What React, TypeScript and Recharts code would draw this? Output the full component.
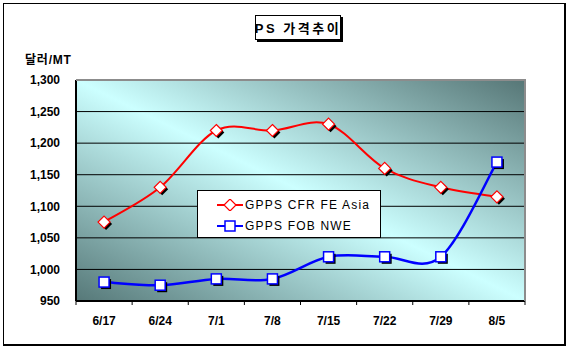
import React from 'react';
import { LineChart, Line, XAxis, YAxis, CartesianGrid } from 'recharts';

const weeks = ['6/17', '6/24', '7/1', '7/8', '7/15', '7/22', '7/29', '8/5'];
const cfrAsia = [1075, 1130, 1220, 1220, 1230, 1160, 1130, 1115];
const fobNwe = [980, 975, 985, 985, 1020, 1020, 1020, 1170];
const yTicks = [950, 1000, 1050, 1100, 1150, 1200, 1250, 1300];
const seriesNames = ['GPPS CFR FE Asia', 'GPPS FOB NWE'];
const seriesColors = ['#ff0000', '#0000ff'];

const data = weeks.map((w, i) => ({ week: w, asia: cfrAsia[i], nwe: fobNwe[i] }));

const FONT = "'Liberation Sans', Arial, 'Noto Sans CJK KR', sans-serif";
const BAND = 449 / weeks.length;

// Excel-style smoothing (Catmull-Rom as cubic bezier)
const excelCurve = (context: any) => {
    let pts: number[][] = [];
    return {
        areaStart() {},
        areaEnd() {},
        lineStart() { pts = []; },
        lineEnd() {
            if (!pts.length) return;
            context.moveTo(pts[0][0], pts[0][1]);
            for (let i = 0; i < pts.length - 1; i++) {
                const p0 = pts[i - 1] || pts[i];
                const p1 = pts[i];
                const p2 = pts[i + 1];
                const p3 = pts[i + 2] || p2;
                context.bezierCurveTo(
                    p1[0] + (p2[0] - p0[0]) / 6, p1[1] + (p2[1] - p0[1]) / 6,
                    p2[0] - (p3[0] - p1[0]) / 6, p2[1] - (p3[1] - p1[1]) / 6,
                    p2[0], p2[1]
                );
            }
        },
        point(x: number, y: number) { pts.push([+x, +y]); },
    };
};

const Diamond = ({ cx, cy, shadow = true }: any) => {
    const d = (x: number, y: number) => `${x},${y - 6} ${x + 6},${y} ${x},${y + 6} ${x - 6},${y}`;
    return (
        <g>
            {shadow && <polygon points={d(cx + 2, cy + 2)} fill="#000" />}
            <polygon points={d(cx, cy)} fill="#fff" stroke="#ff0000" strokeWidth={1.2} />
        </g>
    );
};

const Square = ({ cx, cy, shadow = true }: any) => (
    <g>
        {shadow && <rect x={cx - 5 + 2} y={cy - 5 + 2} width={10} height={10} fill="#000" />}
        <rect x={cx - 5} y={cy - 5} width={10} height={10} fill="#fff" stroke="#0000ff" strokeWidth={1.5} />
    </g>
);

const XTick = ({ x, y, payload, index }: any) => (
    <g>
        <line x1={x - BAND / 2} y1={y} x2={x - BAND / 2} y2={y + 4} stroke="#000" />
        {index === weeks.length - 1 && <line x1={x + BAND / 2} y1={y} x2={x + BAND / 2} y2={y + 4} stroke="#000" />}
        <text x={x} y={y + 24} textAnchor="middle" fontSize={12} fontWeight="bold" fontFamily={FONT} fill="#000">
            {payload.value}
        </text>
    </g>
);

const LegendBox = () => (
    <div style={{ position: 'absolute', left: 197, top: 190, width: 184, height: 48, background: '#fff', border: '1px solid #000', boxSizing: 'border-box', fontFamily: FONT }}>
        {seriesNames.map((name, i) => (
            <div key={name} style={{ display: 'flex', alignItems: 'center', height: 21, marginTop: i === 0 ? 3 : 0, paddingLeft: 19 }}>
                <svg width={28} height={12}>
                    <line x1={0} y1={6} x2={26} y2={6} stroke={seriesColors[i]} strokeWidth={2} />
                    {i === 0 ? <Diamond cx={13} cy={6} shadow={false} /> : <Square cx={13} cy={6} shadow={false} />}
                </svg>
                <span style={{ fontSize: 12, letterSpacing: 1.2, color: '#000', whiteSpace: 'nowrap' }}>{name}</span>
            </div>
        ))}
    </div>
);

export default function App() {
    return (
        <div style={{ position: 'absolute', left: 0, top: 0, width: 570, height: 354, background: '#fff', fontFamily: FONT }}>
            <div style={{ position: 'absolute', left: 3, top: 3, width: 560, height: 340, borderLeft: '1px solid #000', borderTop: '1px solid #000', borderRight: '2px solid #000', borderBottom: '2px solid #000' }} />
            <div style={{ position: 'absolute', left: 255, top: 15, width: 86, height: 25, border: '1px solid #000', boxShadow: '2px 2px 0 #000', background: '#fff', boxSizing: 'border-box', display: 'flex', alignItems: 'center', justifyContent: 'center', fontSize: 13, fontWeight: 'bold', letterSpacing: 2.5, whiteSpace: 'nowrap' }}>
                PS 가격추이
            </div>
            <div style={{ position: 'absolute', left: 25, top: 50, fontSize: 12, fontWeight: 'bold', letterSpacing: 0.8, whiteSpace: 'nowrap' }}>달러/MT</div>
            <LineChart width={570} height={354} data={data} margin={{ top: 80, right: 45, bottom: 23, left: 8 }} style={{ position: 'absolute', left: 0, top: 0 }}>
                <defs>
                    <linearGradient id="plotBg" x1="0" y1="1" x2="1" y2="0">
                        <stop offset="0" stopColor="#567878" />
                        <stop offset="0.5" stopColor="#ccffff" />
                        <stop offset="1" stopColor="#567676" />
                    </linearGradient>
                </defs>
                <CartesianGrid vertical={false} stroke="#000" strokeOpacity={1} fill="url(#plotBg)" fillOpacity={1} />
                <XAxis dataKey="week" height={30} padding={{ left: BAND / 2, right: BAND / 2 }} axisLine={{ stroke: '#000', strokeWidth: 2 }} tickLine={false} tickSize={0} tickMargin={0} tick={<XTick />} interval={0} />
                <YAxis domain={[950, 1300]} ticks={yTicks} width={68} axisLine={{ stroke: '#000', strokeWidth: 2 }} tickLine={false} tickSize={6} tickMargin={10}
                    tickFormatter={(v: number) => v.toLocaleString('en-US')}
                    tick={{ fontSize: 12, fontWeight: 'bold', fill: '#000', fontFamily: FONT }} />
                <Line dataKey="asia" name={seriesNames[0]} type={excelCurve as any} stroke={seriesColors[0]} strokeWidth={2} dot={<Diamond />} activeDot={false} isAnimationActive={false} />
                <Line dataKey="nwe" name={seriesNames[1]} type={excelCurve as any} stroke={seriesColors[1]} strokeWidth={2.5} dot={<Square />} activeDot={false} isAnimationActive={false} />
            </LineChart>
            <div style={{ position: 'absolute', left: 76, top: 79, width: 450, height: 222, borderTop: '2px solid #8c8c8c', borderRight: '2px solid #8c8c8c', boxSizing: 'border-box', pointerEvents: 'none' }} />
            <LegendBox />
        </div>
    );
}
